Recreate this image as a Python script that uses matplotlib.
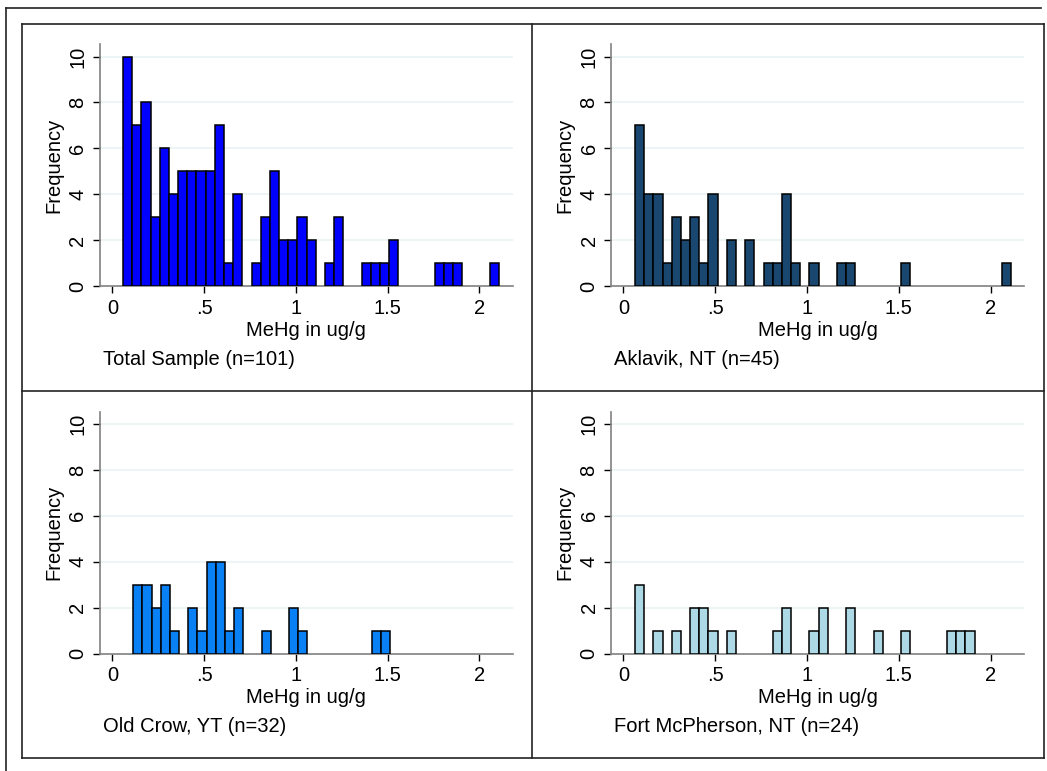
import matplotlib
matplotlib.use("Agg")
import matplotlib.pyplot as plt
from matplotlib.lines import Line2D

## Data: counts per 0.05-wide bin
bin_width = 0.05
total_start = 0.058
group_start = 0.063

total_counts = [10, 7, 8, 3, 6, 4, 5, 5, 5, 5, 7, 1, 4, 0, 1, 3, 5, 2, 2, 3,
                2, 0, 1, 3, 0, 0, 1, 1, 1, 2, 0, 0, 0, 0, 1, 1, 1, 0, 0, 0, 1]
aklavik_counts = [7, 4, 4, 1, 3, 2, 3, 1, 4, 0, 2, 0, 2, 0, 1, 1, 4, 1, 0, 1,
                  0, 0, 1, 1, 0, 0, 0, 0, 0, 1, 0, 0, 0, 0, 0, 0, 0, 0, 0, 0, 1]
oldcrow_counts = [0, 3, 3, 2, 3, 1, 0, 2, 1, 4, 4, 1, 2, 0, 0, 1, 0, 0, 2, 1,
                  0, 0, 0, 0, 0, 0, 0, 1, 1]
fortmc_counts = [3, 0, 1, 0, 1, 0, 2, 2, 1, 0, 1, 0, 0, 0, 0, 1, 2, 0, 0, 1,
                 2, 0, 0, 2, 0, 0, 1, 0, 0, 1, 0, 0, 0, 0, 1, 1, 1]

captions = ["Total Sample (n=101)", "Aklavik, NT (n=45)",
            "Old Crow, YT (n=32)", "Fort McPherson, NT (n=24)"]
colors = ["#0000ff", "#1a476f", "#0a80f5", "#add8e6"]
x_ticks = [0, 0.5, 1, 1.5, 2]
x_labels = ["0", ".5", "1", "1.5", "2"]
y_ticks = [0, 2, 4, 6, 8, 10]

W, H = 1047, 771
FS = 14.5
plt.rcParams["font.family"] = ["Liberation Sans", "DejaVu Sans"]
fig = plt.figure(figsize=(W / 100, H / 100), dpi=100)


def px_rect(x0, y0, x1, y1):
  # pixel box (top-left origin) -> figure fraction rect
  return [x0 / W, 1 - y1 / H, (x1 - x0) / W, (y1 - y0) / H]


panels = [
  (px_rect(100, 44, 512.7, 286), total_counts, total_start),
  (px_rect(611, 44, 1024, 286), aklavik_counts, group_start),
  (px_rect(100, 411.5, 512.7, 653.5), oldcrow_counts, group_start),
  (px_rect(611, 411.5, 1024, 653.5), fortmc_counts, group_start),
]

for (rect, counts, start), caption, color in zip(panels, captions, colors):
  ax = fig.add_axes(rect)

  # Bars, skipping empty bins.
  lefts = [start + i * bin_width for i, c in enumerate(counts) if c > 0]
  heights = [c for c in counts if c > 0]
  ax.bar(lefts, heights, width=bin_width, align="edge", color=color,
         edgecolor="black", linewidth=1.1, zorder=3)

  ax.set_xlim(-0.068, 2.182)
  ax.set_ylim(0, 10.55)

  # Faint horizontal grid.
  for yv in y_ticks[1:]:
    ax.axhline(yv, color="#eaf2f3", linewidth=1.2, zorder=1)

  ax.set_xticks(x_ticks)
  ax.set_xticklabels(x_labels)
  ax.set_yticks(y_ticks)
  ax.set_yticklabels([str(v) for v in y_ticks], rotation=90, va="center")
  ax.tick_params(axis="both", direction="out", length=5, width=1,
                 color="black", labelsize=FS)
  ax.tick_params(axis="y", pad=4)
  ax.tick_params(axis="x", pad=4)

  for side in ["top", "right"]:
    ax.spines[side].set_visible(False)
  for side in ["left", "bottom"]:
    ax.spines[side].set_color("#808080")
    ax.spines[side].set_linewidth(1.2)

  ax.set_ylabel("Frequency", fontsize=FS)
  ax.yaxis.set_label_coords(-0.089, 0.5)
  ax.set_xlabel("MeHg in ug/g", fontsize=FS)
  ax.xaxis.set_label_coords(0.5, -0.182)
  ax.xaxis.label.set_va("center")

  ax.text(0.007, -0.302, caption, transform=ax.transAxes, fontsize=FS,
          ha="left", va="center")


def fig_line(x0, y0, x1, y1, lw=1.2, color="#222222"):
  fig.add_artist(Line2D([x0 / W, x1 / W], [1 - y0 / H, 1 - y1 / H],
                        transform=fig.transFigure, color=color, linewidth=lw))


# Outer frame pieces.
fig_line(6, 7.5, 1041, 7.5)
fig_line(6, 7.5, 6, 771)
# Inner box and panel dividers.
fig_line(22, 24, 1044, 24)
fig_line(22, 758, 1044, 758)
fig_line(22, 24, 22, 758)
fig_line(1044, 24, 1044, 758)
fig_line(532, 24, 532, 758)
fig_line(22, 391, 1044, 391)

fig.savefig("out.png", dpi=100)
